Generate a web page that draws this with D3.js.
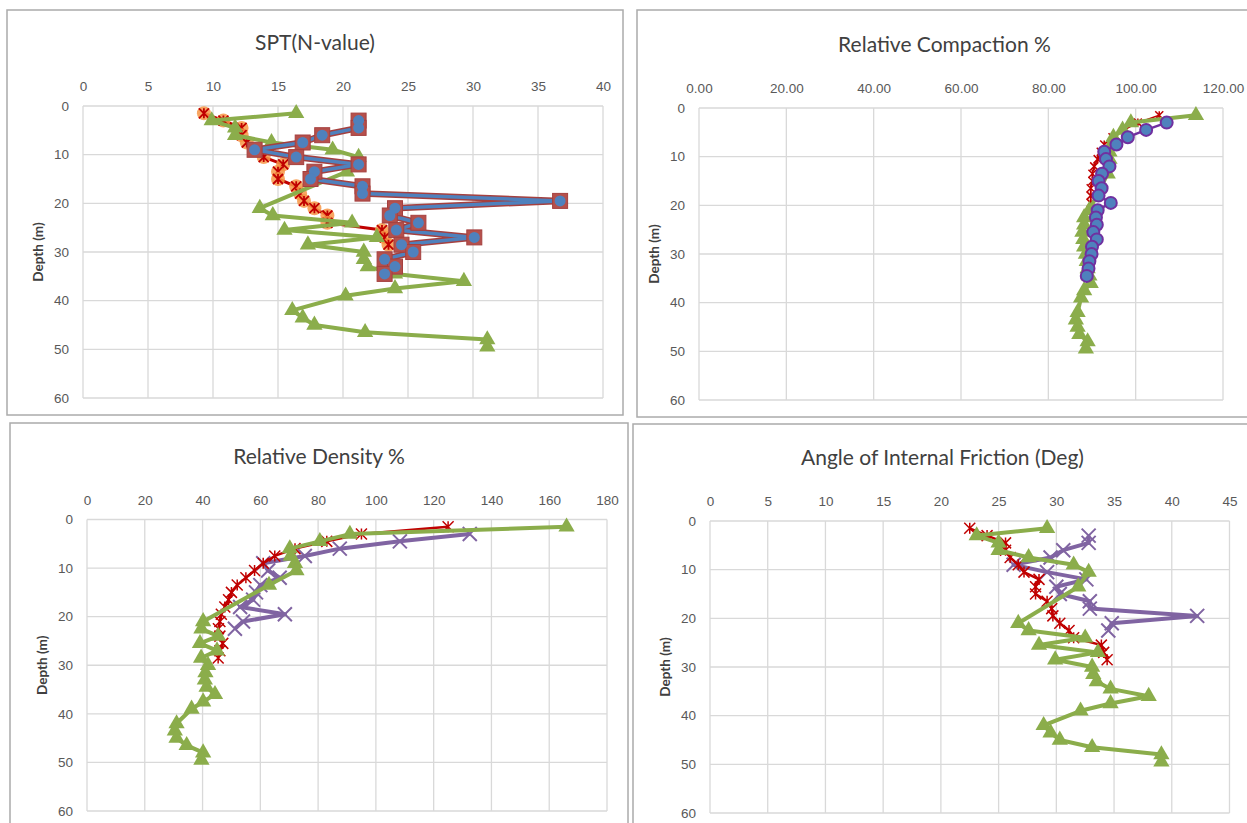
<!DOCTYPE html>
<html>
<head>
<meta charset="utf-8">
<script src="https://cdn.jsdelivr.net/npm/d3@7"></script>
<style>
  body { margin: 0; background: #fff; }
  svg { display: block; font-family: Lato, "Open Sans", sans-serif; }
</style>
</head>
<body>
<svg width="1247" height="823"></svg>
<script>
// depths (m) for the three boreholes
const depthRed = [1.5, 3, 4.5, 6, 7.5, 9, 10.5, 12, 13.5, 15, 16.5, 18, 19.5, 21, 22.5, 24, 25.5, 27, 28.5];
const depthBlue = [3, 4.5, 6, 7.5, 9, 10.5, 12, 13.5, 15, 16.5, 18, 19.5, 21, 22.5, 24, 25.5, 27, 28.5, 30, 31.5, 33, 34.5];
const depthGreen = [1.5, 3, 4.5, 6, 7.5, 9, 10.5, 13.5, 21, 22.5, 24, 25.5, 27, 28.5, 30, 31.5, 33, 34.5, 36, 37.5, 39, 42, 43.5, 45, 46.5, 48, 49.5];

// SPT (N-value)
const sptRed = [9.3, 10.8, 12.2, 12.2, 12.6, 13.3, 13.9, 15.4, 15.0, 15.0, 16.4, 16.7, 17.0, 17.8, 18.8, 18.8, 23.0, 23.2, 23.5];
const sptBlue = [21.2, 21.2, 18.4, 16.9, 13.2, 16.4, 21.2, 17.8, 17.5, 21.5, 21.5, 36.7, 24.0, 23.6, 25.8, 24.1, 30.1, 24.5, 25.4, 23.2, 24.0, 23.2];
const sptGreen = [16.4, 9.9, 11.7, 11.7, 14.5, 19.2, 21.2, 20.3, 13.6, 14.6, 20.7, 15.5, 22.6, 17.3, 21.6, 21.6, 21.9, 24.0, 29.3, 24.0, 20.2, 16.1, 16.9, 17.8, 21.7, 31.1, 31.1];

// Relative compaction %
const rcRed = [105.4, 100.5, 97.4, 94.7, 92.8, 92.0, 91.3, 90.5, 90.1, 90.1, 89.7, 89.7, 89.7, 90.1];
const rcBlue = [107.1, 102.4, 98.2, 95.6, 92.8, 93.2, 94.0, 92.3, 91.5, 92.2, 91.5, 94.3, 91.3, 90.9, 91.1, 90.3, 91.1, 90.0, 89.9, 89.4, 89.2, 88.8];
const rcGreen = [113.8, 98.9, 97.0, 94.9, 94.5, 94.0, 94.0, 93.6, 89.4, 88.2, 88.2, 87.8, 88.0, 88.2, 88.6, 88.8, 89.0, 89.4, 89.7, 88.2, 87.5, 86.7, 86.3, 86.7, 87.1, 89.0, 88.6];

// Relative density %
const rdRed = [125, 95, 83, 72, 65, 61, 58, 55, 52, 50, 49, 47.7, 46.5, 46, 45.5, 46, 47, 46, 45.4];
const rdPurple = [132.5, 108.3, 87.5, 75.4, 61, 62.7, 66.7, 60, 58.5, 57.5, 53, 68.5, 54, 51.2];
const rdGreen = [166, 91, 80.6, 70.2, 70.5, 72, 72.5, 63, 40.2, 39.6, 45.4, 39.1, 45, 39.5, 41.9, 41, 40.8, 41.4, 44.3, 40.2, 36.2, 31, 30.4, 31, 34.5, 40.2, 39.6];

// Angle of internal friction (deg)
const afRed = [22.5, 24.0, 25.6, 25.6, 26.0, 26.7, 27.2, 28.5, 28.2, 28.2, 29.2, 29.6, 29.7, 30.3, 31.1, 31.5, 33.9, 34.1, 34.4];
const afPurple = [32.8, 32.8, 30.6, 29.5, 26.3, 29.2, 32.6, 30.0, 30.3, 32.9, 32.9, 42.2, 34.8, 34.5];
const afGreen = [29.2, 23.1, 25.0, 25.0, 27.6, 31.5, 32.8, 31.9, 26.7, 27.6, 32.5, 28.5, 33.6, 29.9, 33.1, 33.2, 33.5, 34.7, 38.0, 34.7, 32.1, 28.9, 29.5, 30.3, 33.1, 39.1, 39.1];

const depthTicks = [0, 10, 20, 30, 40, 50, 60];

const svg = d3.select("svg");

// marker shapes
const asterisk = (s) => `M${-s},${-s}L${s},${s}M${-s},${s}L${s},${-s}M0,${-s}L0,${s}`;
const cross = (s) => `M${-s},${-s}L${s},${s}M${-s},${s}L${s},${-s}`;
const triangle = d3.symbol().type(d3.symbolTriangle).size(115);

const zip = (xs, ds) => xs.map((v, i) => ({ v, d: ds[i] }));

function drawPanel({ box, plot, title, xMax, xStep, fmt, series }) {
  const [bx0, by0, bx1, by1] = box;
  const [l, t, r, b] = plot;
  const x = d3.scaleLinear().domain([0, xMax]).range([l, r]);
  const y = d3.scaleLinear().domain([0, 60]).range([t, b]);
  const xTicks = d3.range(0, xMax + 0.001, xStep);

  svg.append("rect")
    .attr("x", bx0).attr("y", by0)
    .attr("width", bx1 - bx0).attr("height", by1 - by0)
    .attr("fill", "#fff").attr("stroke", "#ababab").attr("stroke-width", 1.5);

  // grid
  const grid = svg.append("g").attr("stroke", "#d9d9d9").attr("stroke-width", 1.3);
  grid.selectAll(".gx").data(xTicks).join("line")
    .attr("x1", (d) => x(d)).attr("x2", (d) => x(d)).attr("y1", t).attr("y2", b);
  grid.selectAll(".gy").data(depthTicks).join("line")
    .attr("y1", (d) => y(d)).attr("y2", (d) => y(d)).attr("x1", l).attr("x2", r);

  // axes (labels only)
  const gx = svg.append("g").attr("transform", `translate(0,${t})`)
    .call(d3.axisTop(x).tickValues(xTicks).tickSize(0).tickPadding(15).tickFormat(d3.format(fmt)));
  const gy = svg.append("g").attr("transform", `translate(${l},0)`)
    .call(d3.axisLeft(y).tickValues(depthTicks).tickSize(0).tickPadding(14));
  [gx, gy].forEach((g) => {
    g.select(".domain").remove();
    g.selectAll("text").attr("fill", "#595959").style("font-size", "13.5px");
  });

  svg.append("text")
    .attr("x", (bx0 + bx1) / 2).attr("y", t - 56)
    .attr("text-anchor", "middle")
    .attr("fill", "#404040").style("font-size", "21px")
    .text(title);

  svg.append("text")
    .attr("transform", `translate(${l - 40},${(t + b) / 2}) rotate(-90)`)
    .attr("text-anchor", "middle")
    .attr("fill", "#404040").style("font-size", "13.5px").style("font-weight", "bold")
    .text("Depth (m)");

  const line = d3.line().x((p) => x(p.v)).y((p) => y(p.d));

  series.forEach((s) => {
    const pts = zip(s.values, s.depths);
    const g = svg.append("g");
    if (s.type === "blueSquare") {
      g.append("path").attr("d", line(pts)).attr("fill", "none")
        .attr("stroke", "#a5403f").attr("stroke-width", 6.5).attr("stroke-linejoin", "round");
      g.append("path").attr("d", line(pts)).attr("fill", "none")
        .attr("stroke", "#4f81bd").attr("stroke-width", 3.5).attr("stroke-linejoin", "round");
      g.selectAll("rect").data(pts).join("rect")
        .attr("x", (p) => x(p.v) - 7.5).attr("y", (p) => y(p.d) - 7.5)
        .attr("width", 15).attr("height", 15)
        .attr("fill", "#b5504c").attr("stroke", "#a5403f");
      g.selectAll("circle").data(pts).join("circle")
        .attr("cx", (p) => x(p.v)).attr("cy", (p) => y(p.d)).attr("r", 5.5)
        .attr("fill", "#4f81bd");
      return;
    }
    g.append("path").attr("d", line(pts)).attr("fill", "none")
      .attr("stroke", s.color).attr("stroke-width", s.width).attr("stroke-linejoin", "round");
    const m = g.selectAll(".m").data(pts).join("g")
      .attr("transform", (p) => `translate(${x(p.v)},${y(p.d)})`);
    if (s.type === "orangeStar") {
      m.append("circle").attr("r", 7).attr("fill", "#f79646").attr("opacity", 0.85);
      m.append("path").attr("d", asterisk(5)).attr("stroke", "#c00000").attr("stroke-width", 1.8);
    } else if (s.type === "green") {
      m.append("path").attr("d", triangle).attr("fill", s.color);
    } else if (s.type === "purpleCircle") {
      m.append("circle").attr("r", 6).attr("fill", "#4f81bd")
        .attr("stroke", "#7030a0").attr("stroke-width", 2);
    } else if (s.type === "redAst") {
      m.append("path").attr("d", asterisk(s.size)).attr("stroke", "#c00000").attr("stroke-width", 1.5);
    } else if (s.type === "purpleX") {
      m.append("path").attr("d", cross(7)).attr("stroke", s.color).attr("stroke-width", 2);
    }
  });
}

const green = "#8bad4b";

drawPanel({
  box: [7, 10, 623, 415], plot: [83, 106, 603, 398],
  title: "SPT(N-value)", xMax: 40, xStep: 5, fmt: "d",
  series: [
    { type: "orangeStar", values: sptRed, depths: depthRed, color: "#c00000", width: 3 },
    { type: "green", values: sptGreen, depths: depthGreen, color: green, width: 4 },
    { type: "blueSquare", values: sptBlue, depths: depthBlue },
  ],
});

drawPanel({
  box: [637, 10, 1252, 417], plot: [699, 108, 1223, 400],
  title: "Relative Compaction %", xMax: 120, xStep: 20, fmt: ".2f",
  series: [
    { type: "redAst", values: rcRed, depths: depthRed, color: "#c00000", width: 1.5, size: 4 },
    { type: "green", values: rcGreen, depths: depthGreen, color: green, width: 4 },
    { type: "purpleCircle", values: rcBlue, depths: depthBlue, color: "#7030a0", width: 2.5 },
  ],
});

drawPanel({
  box: [10, 423, 628, 835], plot: [87, 519.5, 607, 811],
  title: "Relative Density %", xMax: 180, xStep: 20, fmt: "d",
  series: [
    { type: "purpleX", values: rdPurple, depths: depthBlue, color: "#8064a2", width: 4 },
    { type: "redAst", values: rdRed, depths: depthRed, color: "#c00000", width: 2.5, size: 5.5 },
    { type: "green", values: rdGreen, depths: depthGreen, color: green, width: 4 },
  ],
});

drawPanel({
  box: [633, 424, 1252, 835], plot: [710, 521, 1229.5, 813],
  title: "Angle of Internal Friction (Deg)", xMax: 45, xStep: 5, fmt: "d",
  series: [
    { type: "purpleX", values: afPurple, depths: depthBlue, color: "#8064a2", width: 4 },
    { type: "redAst", values: afRed, depths: depthRed, color: "#c00000", width: 2.5, size: 5.5 },
    { type: "green", values: afGreen, depths: depthGreen, color: green, width: 4 },
  ],
});
</script>
</body>
</html>
